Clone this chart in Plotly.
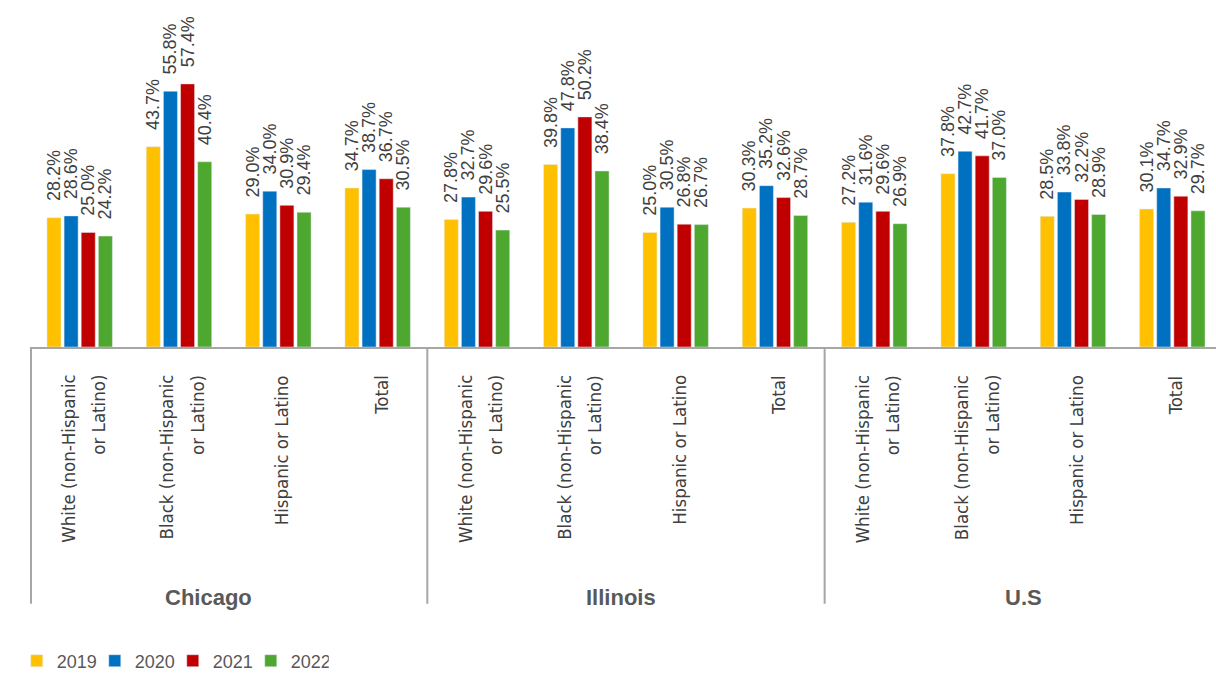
import plotly.graph_objects as go

years = ["2019", "2020", "2021", "2022"]
colors = ["#FFC000", "#0070C0", "#C00000", "#4EA72E"]
regions = ["Chicago", "Illinois", "U.S"]
groups = [["White (non-Hispanic", "or Latino)"], ["Black (non-Hispanic", "or Latino)"],
          ["Hispanic or Latino"], ["Total"]]

v2019 = [28.2, 43.7, 29.0, 34.7, 27.8, 39.8, 25.0, 30.3, 27.2, 37.8, 28.5, 30.1]
v2020 = [28.6, 55.8, 34.0, 38.7, 32.7, 47.8, 30.5, 35.2, 31.6, 42.7, 33.8, 34.7]
v2021 = [25.0, 57.4, 30.9, 36.7, 29.6, 50.2, 26.8, 32.6, 29.6, 41.7, 32.2, 32.9]
v2022 = [24.2, 40.4, 29.4, 30.5, 25.5, 38.4, 26.7, 28.7, 26.9, 37.0, 28.9, 29.7]
series = [v2019, v2020, v2021, v2022]

region_label_x = [1.3, 5.45, 9.5]
separators_x = [3.5, 7.5]

cats = [g for _ in regions for g in groups]
xs = list(range(len(cats)))

fig = go.Figure()
for name, col, vals in zip(years, colors, series):
    fig.add_trace(go.Bar(
        x=xs, y=vals, name=name, marker_color=col,
        texttemplate="\u00a0\u00a0\u2009%{y:.1f}%", textposition="outside",
        textangle=-90, constraintext="none", cliponaxis=False,
        textfont=dict(family="Liberation Sans, Arial, sans-serif", size=18, color="#404040"),
    ))

LINE = "#A6A6A6"
shapes = [dict(type="line", xref="paper", yref="paper", x0=0, x1=0, y0=0, y1=-0.74,
               line=dict(color=LINE, width=2))]
for sx in separators_x:
    shapes.append(dict(type="line", xref="x", yref="paper", x0=sx, x1=sx, y0=0, y1=-0.74,
                       line=dict(color=LINE, width=2)))

annotations = []
CAT_FONT = dict(family="DejaVu Sans Condensed, Liberation Sans Narrow, sans-serif",
                size=18.5, color="#404040")
for i, lines in enumerate(cats):
    n = len(lines)
    for k, ln in enumerate(lines):
        annotations.append(dict(
            x=i, y=-0.075, xref="x", yref="paper", text=ln, showarrow=False,
            textangle=-90, xanchor="center", yanchor="top",
            xshift=3 + (k - (n - 1) / 2) * 30,
            font=CAT_FONT,
        ))
for rx, r in zip(region_label_x, regions):
    annotations.append(dict(
        x=rx, y=-0.722, xref="x", yref="paper", text="<b>%s</b>" % r, showarrow=False,
        xanchor="center", yanchor="middle",
        font=dict(family="Liberation Sans, Arial, sans-serif", size=22, color="#595959"),
    ))

fig.update_layout(
    width=1216, height=673,
    margin=dict(l=31, r=0, t=0, b=326, autoexpand=False),
    paper_bgcolor="white", plot_bgcolor="white",
    barmode="group", bargap=0.31, bargroupgap=0.18,
    showlegend=True,
    legend=dict(orientation="h", x=-0.012, xanchor="left", y=-0.905, yanchor="middle",
                font=dict(family="Liberation Sans, Arial, sans-serif", size=18, color="#595959"),
                entrywidth=33, entrywidthmode="pixels", traceorder="normal",
                itemwidth=30),
    shapes=shapes, annotations=annotations,
    xaxis=dict(range=[-0.49, 11.44], showticklabels=False, ticks="", showgrid=False,
               zeroline=False, showline=True, linecolor=LINE, linewidth=2, fixedrange=True),
    yaxis=dict(range=[0, 75.7], visible=False, showgrid=False, zeroline=False, fixedrange=True),
)

fig.write_html("out.html")
